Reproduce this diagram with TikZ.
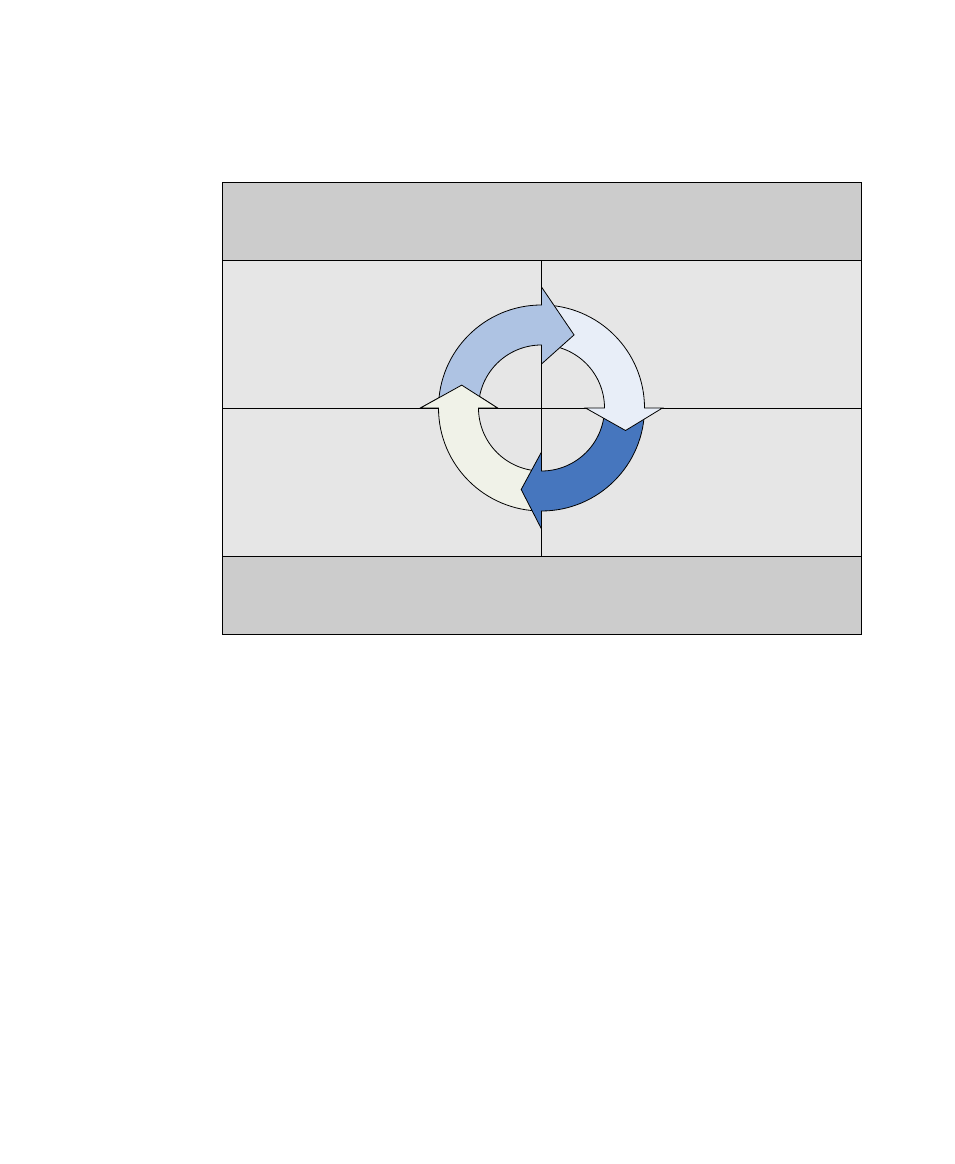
\documentclass[tikz,border=0pt]{standalone}
\usepackage{tikz}
\usepackage{xcolor}
\usetikzlibrary{positioning, calc}

\definecolor{bandgray}{HTML}{CCCCCC}
\definecolor{cellgray}{HTML}{E6E6E6}
\definecolor{arrowA}{HTML}{AEC3E3}
\definecolor{arrowB}{HTML}{E8EEF8}
\definecolor{arrowC}{HTML}{4676BE}
\definecolor{arrowD}{HTML}{F0F2E8}

\begin{document}
\begin{tikzpicture}[x=1pt, y=1pt,
    band/.style={draw, line width=0.75pt, fill=bandgray, minimum width=639pt, minimum height=78pt, inner sep=0pt, outer sep=0pt},
    cell/.style={draw, line width=0.75pt, fill=cellgray, minimum width=319.5pt, minimum height=148pt, inner sep=0pt, outer sep=0pt},
    cyclearrow/.style={draw, line width=0.8pt, fill=#1}]
    \fill[white] (0,0) rectangle (954,1164);
    \useasboundingbox (0,0) rectangle (954,1164);

    % frame: header, four cells, footer
    \node[band] (header) at (541.5,943) {};
    \node[cell, anchor=north west] (nw) at (header.south west) {};
    \node[cell, anchor=north west] (ne) at (nw.north east) {};
    \node[cell, anchor=north west] (sw) at (nw.south west) {};
    \node[cell, anchor=north west] (se) at (nw.south east) {};
    \node[band, anchor=north west] (footer) at (sw.south west) {};

    \coordinate (hub) at (nw.south east);

    % circular arrows, each head over the next tail
    \foreach \from/\to/\tip/\reach/\col in {-90/-180/-196/83/arrowD, 0/-90/-104/84/arrowC, 90/0/-15/87/arrowB, 180/90/66/80/arrowA}
      \draw[cyclearrow=\col, shift={(hub)}] (\from:103) arc[start angle=\from, end angle=\to, radius=103]
        -- (\to:121) -- (\tip:\reach) -- (\to:44) -- (\to:63) arc[start angle=\to, end angle=\from, radius=63] -- cycle;

    % last head lies over the first tail
    \begin{scope}
      \clip ($(hub)+(0,-0.5)$) rectangle ($(hub)+(-130,130)$);
      \draw[cyclearrow=arrowD, shift={(hub)}] (-90:103) arc[start angle=-90, end angle=-180, radius=103]
        -- (-180:121) -- (-196:83) -- (-180:44) -- (-180:63) arc[start angle=-180, end angle=-90, radius=63] -- cycle;
    \end{scope}
\end{tikzpicture}
\end{document}
